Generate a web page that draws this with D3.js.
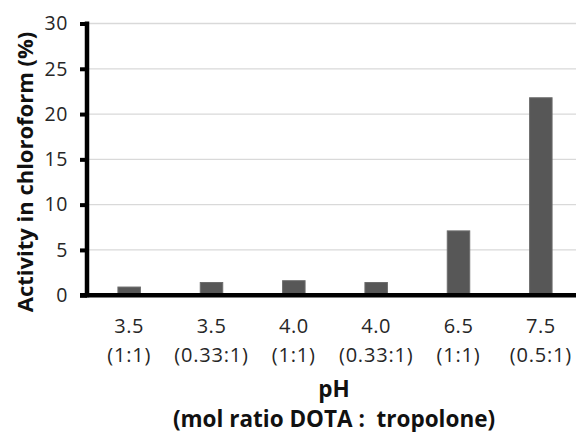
<!DOCTYPE html>
<html>
<head>
<meta charset="utf-8">
<script src="https://cdn.jsdelivr.net/npm/d3@7"></script>
<style>
  html, body { margin: 0; padding: 0; background: #fff; }
  svg { display: block; font-family: "Open Sans", "DejaVu Sans", sans-serif; }
</style>
</head>
<body>
<svg id="chart" width="576" height="432"></svg>
<script>
// pH values and DOTA : tropolone mol ratios for each sample
const phLabels = ["3.5", "3.5", "4.0", "4.0", "6.5", "7.5"];
const ratioLabels = ["(1:1)", "(0.33:1)", "(1:1)", "(0.33:1)", "(1:1)", "(0.5:1)"];
// Activity extracted into chloroform (%)
const activity = [0.9, 1.4, 1.6, 1.4, 7.1, 21.8];
const yTicks = [0, 5, 10, 15, 20, 25, 30];

const svg = d3.select("#chart");
const W = 576;
const plot = { left: 88, right: 582, top: 23.5, bottom: 295.2 };

const x = d3.scaleBand()
  .domain(d3.range(activity.length))
  .range([plot.left, plot.right])
  .paddingInner(0.727)
  .paddingOuter(0.3635);

const y = d3.scaleLinear().domain([0, 30]).range([plot.bottom, plot.top]);

// horizontal gridlines
svg.append("g")
  .selectAll("line")
  .data(yTicks.filter(d => d > 0))
  .join("line")
  .attr("x1", plot.left)
  .attr("x2", W)
  .attr("y1", d => y(d))
  .attr("y2", d => y(d))
  .attr("stroke", "#d9d9d9")
  .attr("stroke-width", 1.3);

// bars
svg.append("g")
  .selectAll("rect")
  .data(activity)
  .join("rect")
  .attr("x", (d, i) => x(i))
  .attr("width", x.bandwidth())
  .attr("y", d => y(d))
  .attr("height", d => y(0) - y(d))
  .attr("fill", "#575757")
  .attr("stroke", "#6c6c6c")
  .attr("stroke-width", 1);

// y axis
const yAxis = d3.axisLeft(y).tickValues(yTicks).tickSize(7).tickPadding(12);
const gy = svg.append("g")
  .attr("transform", `translate(${plot.left - 1},0)`)
  .call(yAxis);
gy.select(".domain").remove();
gy.selectAll(".tick line").attr("stroke", "#000").attr("stroke-width", 4);
gy.selectAll(".tick text")
  .attr("font-size", 19.5)
  .attr("font-family", "Open Sans")
  .attr("letter-spacing", 0.6)
  .attr("fill", "#262626");
svg.append("line")
  .attr("x1", plot.left - 1).attr("x2", plot.left - 1)
  .attr("y1", plot.top - 2).attr("y2", plot.bottom + 2)
  .attr("stroke", "#000").attr("stroke-width", 4.5);

// x axis baseline
svg.append("line")
  .attr("x1", plot.left - 8).attr("x2", W)
  .attr("y1", y(0)).attr("y2", y(0))
  .attr("stroke", "#000").attr("stroke-width", 4.5);

// category labels (two lines)
const xl = svg.append("g");
xl.selectAll("text.ph")
  .data(phLabels)
  .join("text")
  .attr("class", "ph")
  .attr("x", (d, i) => x(i) + x.bandwidth() / 2)
  .attr("y", 333)
  .attr("text-anchor", "middle")
  .attr("font-size", 20)
  .attr("letter-spacing", 0.5)
  .attr("fill", "#262626")
  .text(d => d);
xl.selectAll("text.ratio")
  .data(ratioLabels)
  .join("text")
  .attr("class", "ratio")
  .attr("x", (d, i) => x(i) + x.bandwidth() / 2)
  .attr("y", 362)
  .attr("text-anchor", "middle")
  .attr("font-size", 20)
  .attr("letter-spacing", 0.8)
  .attr("fill", "#262626")
  .text(d => d);

// axis titles
svg.append("text")
  .attr("x", 334).attr("y", 396.5)
  .attr("text-anchor", "middle")
  .attr("font-size", 22.5).attr("font-weight", "bold")
  .attr("fill", "#111")
  .text("pH");
svg.append("text")
  .attr("x", 334).attr("y", 426.5)
  .attr("text-anchor", "middle")
  .attr("font-size", 22.5).attr("font-weight", "bold")
  .attr("fill", "#111")
  .attr("xml:space", "preserve")
  .style("white-space", "pre")
  .text("(mol ratio DOTA :  tropolone)");

svg.append("text")
  .attr("transform", "translate(33,172) rotate(-90)")
  .attr("text-anchor", "middle")
  .attr("font-size", 22).attr("font-weight", "bold")
  .attr("fill", "#111")
  .text("Activity in chloroform (%)");
</script>
</body>
</html>
